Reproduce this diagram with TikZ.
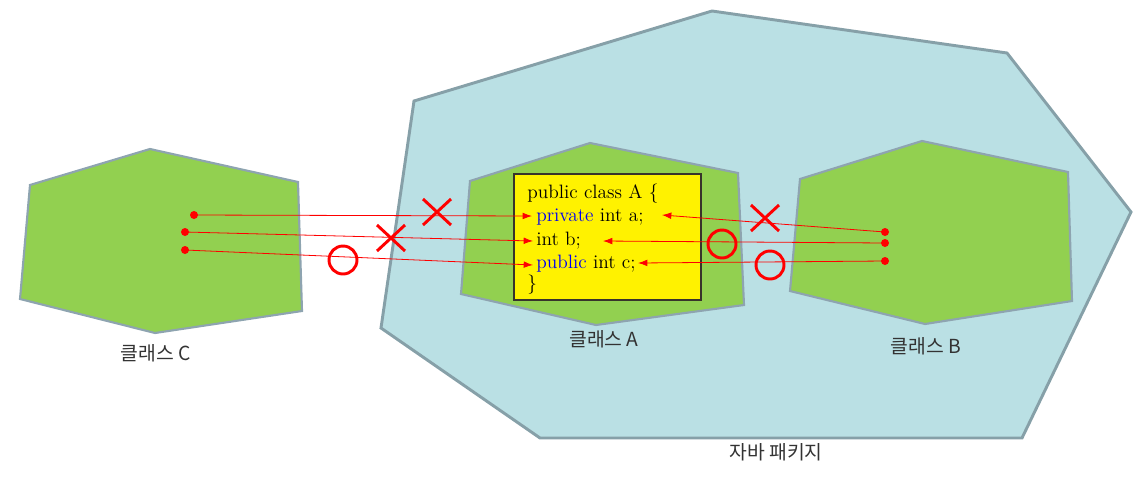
\documentclass[tikz,border=0pt]{standalone}
\usepackage{fontspec}
\usetikzlibrary{arrows.meta}
\newfontfamily\kr{Noto Sans CJK KR}
\definecolor{pkgfill}{HTML}{BAE0E4}
\definecolor{pkgline}{HTML}{86A0A8}
\definecolor{cls}{HTML}{92D050}
\definecolor{clsline}{HTML}{8EA4B0}
\definecolor{lbl}{HTML}{333333}
\definecolor{kw}{HTML}{0000F0}
\begin{document}
\begin{tikzpicture}[x=0.75pt,y=-0.75pt,
  pkg/.style={fill=pkgfill,draw=pkgline,line width=2.2pt},
  cls/.style={fill=cls,draw=clsline,line width=1.6pt},
  lab/.style={font=\kr\fontsize{14.5}{16}\selectfont,text=lbl},
  code/.style={font=\fontsize{14.5}{16}\selectfont,anchor=base west,inner sep=0pt},
  dot/.style={circle,fill=red,inner sep=0pt,minimum size=6pt},
  ref/.style={red,line width=0.6pt,-{Latex[length=7pt,width=5pt]}},
  redmark/.style={red,line width=2.2pt}]
\useasboundingbox (0,0) rectangle (1146,476);
% package
\draw[pkg] (414,101) -- (712,11) -- (1007,53) -- (1131,212) -- (1022,438) -- (540,438) -- (381,328) -- cycle;
% classes
\draw[cls] (30,185) -- (150,149) -- (298,182) -- (302,311) -- (155,333) -- (20,299) -- cycle;
\draw[cls] (470,181) -- (590,143) -- (738,173) -- (744,305) -- (596,325) -- (461,294) -- cycle;
\draw[cls] (800,179) -- (922,141) -- (1068,172) -- (1072,301) -- (925,324) -- (790,291) -- cycle;
% code box
\node[draw=black!80!olive,fill=yellow,line width=0.8pt,minimum width=140.25pt,minimum height=94.5pt,inner sep=0pt] (box) at (607.5,237) {};
\node[code] (l1) at (527,198) {public class A \{};
\node[code] (l2) at (536,221) {\textcolor{kw}{private} int a;};
\node[code] (l3) at (536,245) {int b;};
\node[code] (l4) at (536,268) {\textcolor{kw}{public} int c;};
\node[code] (l5) at (527,289) {\}};
% labels
\node[lab] (lc) at (156,353) {클래스 C};
\node[lab] (la) at (604,339) {클래스 A};
\node[lab] (lb) at (926,346) {클래스 B};
\node[lab] (lp) at (776,452) {자바 패키지};
% dots
\node[dot] (c1) at (194,215) {};
\node[dot] (c2) at (185,232) {};
\node[dot] (c3) at (185,250) {};
\node[dot] (b1) at (885,232) {};
\node[dot] (b2) at (885,243) {};
\node[dot] (b3) at (885,261) {};
% targets
\coordinate (ta) at (532,216);
\coordinate (tb) at (533,241);
\coordinate (tc) at (533,265);
\coordinate (ua) at (662,215);
\coordinate (ub) at (603,241);
\coordinate (uc) at (638,263);
\draw[ref] (c1.center) -- (ta);
\draw[ref] (c2.center) -- (tb);
\draw[ref] (c3.center) -- (tc);
\draw[ref] (b1.center) -- (ua);
\draw[ref] (b2.center) -- (ub);
\draw[ref] (b3.center) -- (uc);
% marks
\foreach \n/\x/\y in {x1/437/212, x2/391/238, x3/765/218}{
  \coordinate (\n) at (\x,\y);
  \draw[redmark] ([shift={(-14,-13)}]\n) -- ([shift={(14,13)}]\n);
  \draw[redmark] ([shift={(-14,13)}]\n) -- ([shift={(14,-13)}]\n);
}
\foreach \n/\x/\y in {o1/343/260, o2/722/244, o3/770/265}{
  \node[redmark,draw,circle,minimum size=21pt,inner sep=0pt] (\n) at (\x,\y) {};
}
\end{tikzpicture}
\end{document}
